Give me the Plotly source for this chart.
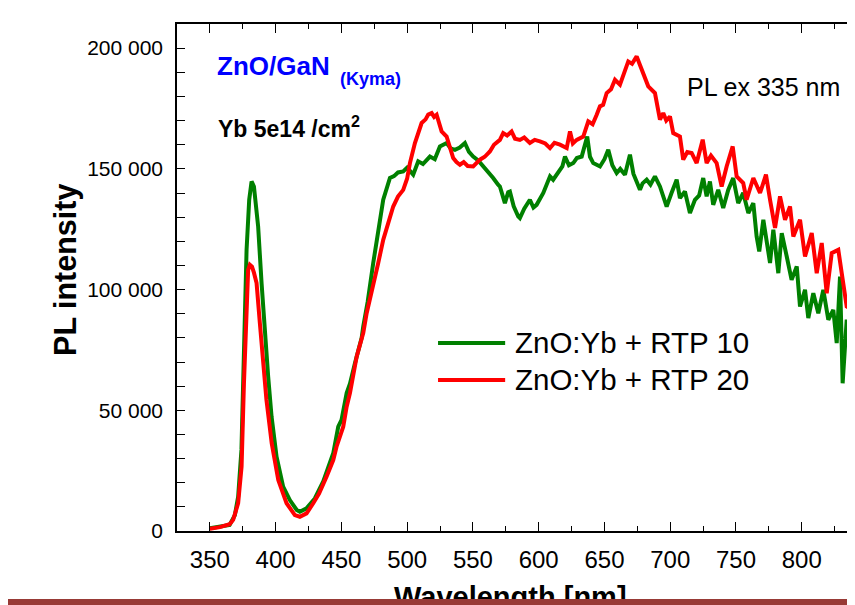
import plotly.graph_objects as go

# ---------------- data ----------------
wl_rtp10 = [350, 357.6, 365, 369, 371.5, 374, 375.3, 376.6, 377.9, 379.9, 381.7, 383.5, 385, 386.7,
            389.3, 391.8, 394.3, 396.9, 400.7, 405.7, 410.8, 416, 418.4, 423.5, 429.8, 436.2, 441.3,
            443.8, 447.6, 450.1, 454, 456.5, 460.3, 465.4, 466.6, 470, 474.2, 478, 481.8, 486.9, 490,
            493, 497, 500, 502, 504.6, 508.4, 512, 517.3, 521, 524.9, 530, 533, 536.3, 540, 543.9,
            547, 550.2, 554, 557.8, 561, 565.4, 569, 570.5, 574.3, 576.8, 578.1, 581, 584.4, 585.7,
            589, 593.3, 596, 598.4, 603.5, 606, 608.6, 611, 614.9, 618, 620, 623, 626.3, 629, 632.7,
            636.9, 639, 641.5, 646.6, 650, 652.9, 656, 659.3, 662, 665.6, 669.4, 672, 677, 679, 682.1,
            685, 688.4, 692.2, 697.3, 701, 704.9, 707.4, 711.2, 715, 718.8, 722, 725.1, 727.7, 730.2,
            732.7, 736.5, 740.3, 744.1, 747.9, 751.7, 755.5, 759.4, 763.2, 765.7, 767.7, 770.8, 775.9,
            778.4, 782.2, 784.8, 788.6, 792.3, 796.2, 798.7, 802.5, 805, 808.8, 812.6, 816.4, 820.2,
            824, 826.6, 829.1, 831.1, 834.2, 836.7, 839.2, 841]
pl_rtp10 = [1100, 1800, 2500, 6600, 14200, 33600, 61200, 88800, 116500, 137200, 144800, 142700, 135800,
            126100, 102700, 81900, 64000, 47400, 30800, 18400, 12800, 8700, 8000, 9400, 13500, 20500,
            28100, 32200, 43200, 46000, 57100, 61000, 69500, 80000, 84700, 95000, 111000, 125000,
            137200, 146200, 147000, 148500, 148900, 150500, 149000, 147600, 153100, 152000, 155100,
            154000, 159300, 160700, 158500, 157900, 158800, 160700, 157000, 155100, 153500, 151000,
            149500, 146200, 143500, 142700, 135800, 140300, 140600, 134500, 130300, 129600, 133500,
            137200, 134000, 135100, 140000, 143500, 146900, 145500, 148900, 151000, 155100, 151500,
            152400, 154500, 155100, 163400, 155000, 152400, 151000, 154000, 157900, 151500, 148300,
            150000, 147600, 155900, 148000, 141300, 144000, 145500, 143500, 146900, 142700, 134400,
            140000, 145500, 137900, 140600, 131700, 137200, 139000, 146200, 138600, 144800, 135100,
            141300, 133800, 141300, 146200, 135800, 140000, 131700, 135800, 122000, 115800, 128900,
            111000, 124800, 106800, 123400, 113700, 104000, 109600, 93000, 99900, 88200, 98500, 90200,
            99900, 87500, 91600, 77800, 105400, 61200, 87500, 73700, 51500, 48000]

wl_rtp20 = [350, 357.6, 365, 367.7, 371.5, 374.1, 375.9, 377.9, 379.1, 380.4, 382, 383.5, 385.5, 388,
            390.5, 393, 397, 402, 408.3, 414.6, 418.4, 423.5, 428.6, 433, 438.7, 443.8, 446.3, 451.4,
            454, 456.5, 461.6, 466.6, 469.2, 474.2, 478, 481.8, 485.5, 489.4, 493, 497, 500, 502.1,
            505.9, 508.5, 511, 514, 516, 518.6, 520.5, 522.4, 524.5, 526.2, 530, 532.5, 535, 537.5,
            540.1, 543, 546, 550.2, 553, 555.3, 559, 562.9, 566, 570.5, 573, 576, 579.4, 582, 585.7,
            589, 593.3, 597, 601, 605, 608.6, 612, 616.2, 621.3, 623.8, 626, 628.9, 633.9, 637.7, 641,
            644.1, 646.6, 649, 651.7, 655, 658, 661.8, 665, 668.1, 671, 674.5, 677, 679.5, 683.3, 688.4,
            692.2, 694.7, 697, 699.8, 702.3, 707.4, 709.9, 713, 716.3, 720.1, 724.7, 727.7, 731, 735.3,
            739.1, 742.9, 747.5, 750.5, 755.5, 758.1, 763.2, 768.3, 772.8, 775.9, 779.7, 783.5, 787.3,
            791.1, 793.6, 798.7, 802.5, 807.6, 811.4, 815.2, 819, 822.8, 827.8, 830.4, 834.2, 838, 841]
pl_rtp20 = [900, 1600, 2800, 4600, 11500, 26700, 61200, 95700, 108200, 110300, 109500, 107000, 102700,
            86100, 72200, 54300, 36400, 21100, 11500, 6600, 5900, 7300, 11500, 15500, 22500, 29400,
            34900, 43200, 51500, 57100, 72200, 82000, 90200, 101300, 111000, 120600, 127500, 134400,
            138500, 141300, 146000, 152400, 160700, 165000, 169000, 170500, 172500, 173100, 171500,
            172400, 168000, 165500, 163400, 158500, 154500, 152800, 151700, 152800, 151200, 151000,
            152800, 153800, 155000, 157200, 160000, 162000, 164800, 163800, 165500, 162500, 162000,
            163000, 160700, 162000, 161400, 160500, 158600, 160800, 160000, 158600, 165500, 160500,
            162000, 163400, 169700, 168500, 172400, 175900, 176500, 181400, 183000, 186900, 184900,
            190000, 194500, 193500, 196600, 193000, 189700, 184200, 181400, 170400, 173100, 170000,
            171700, 164800, 163400, 153800, 157000, 156600, 152400, 162100, 152400, 155500, 152400,
            142700, 151000, 159300, 146900, 144100, 137200, 146200, 140000, 147600, 137200, 125500,
            138600, 128900, 134400, 122000, 128900, 113700, 123400, 106800, 119300, 98500, 115100,
            116500, 106800, 93000, 91600, 92000]

series_names = ["ZnO:Yb + RTP 10", "ZnO:Yb + RTP 20"]
series_colors = ["#008000", "#ff0000"]

x_tick_vals = [350, 400, 450, 500, 550, 600, 650, 700, 750, 800, 850]
y_tick_vals = [0, 50000, 100000, 150000, 200000]
y_tick_text = ["0", "50 000", "100 000", "150 000", "200 000"]
x_range = [325, 840.5]
y_range = [0, 210000]

FONT = "Liberation Sans, Arial, sans-serif"
X_STANDOFF = 6

fig = go.Figure()
for wl, pl, name, col in [(wl_rtp10, pl_rtp10, series_names[0], series_colors[0]),
                          (wl_rtp20, pl_rtp20, series_names[1], series_colors[1])]:
    fig.add_trace(go.Scatter(x=wl, y=pl, mode="lines", name=name,
                             line=dict(color=col, width=4), showlegend=False))

# the page has an 8px body margin: the figure is sized so that it fills the window exactly
fig.update_layout(
    width=847, height=597,
    margin=dict(l=169, r=0, t=16, b=74),
    paper_bgcolor="white", plot_bgcolor="white",
    font=dict(family=FONT, color="black"),
)
fig.update_xaxes(
    range=x_range, showgrid=False, zeroline=False,
    showline=True, linecolor="black", linewidth=1.5, mirror="ticks",
    ticks="inside", ticklen=9, tickwidth=1.2, tickcolor="black",
    tickvals=x_tick_vals, tickfont=dict(size=24, family=FONT, color="black"),
    ticklabelstandoff=X_STANDOFF,
    minor=dict(dtick=25, tick0=350, ticks="inside", ticklen=5, tickwidth=1.2, tickcolor="black"),
)
fig.update_yaxes(
    range=y_range, showgrid=False, zeroline=False,
    showline=True, linecolor="black", linewidth=1.5,
    ticks="inside", ticklen=8, tickwidth=1.2, tickcolor="black",
    tickvals=y_tick_vals, ticktext=y_tick_text,
    tickfont=dict(size=21, family=FONT, color="black"),
    ticklabelstandoff=8,
    minor=dict(dtick=10000, ticks="inside", ticklen=8, tickwidth=1.2, tickcolor="black"),
)

ann = []
# last, cut-off x tick label
ann.append(dict(xref="paper", yref="paper", x=(850 - x_range[0]) / (x_range[1] - x_range[0]), y=0,
                yshift=-X_STANDOFF, xanchor="center", yanchor="top", showarrow=False, text="850",
                font=dict(size=24, family=FONT, color="black")))
# texts in the plot
ann.append(dict(xref="paper", yref="paper", x=0.056, y=0.917, xanchor="left", yanchor="middle",
                showarrow=False, text="<b>ZnO/GaN</b>", font=dict(size=26, family=FONT, color="#0000ff")))
ann.append(dict(xref="paper", yref="paper", x=0.2375, y=0.892, xanchor="left", yanchor="middle",
                showarrow=False, text="<b>(Kyma)</b>", font=dict(size=18, family=FONT, color="#0000ff")))
ann.append(dict(xref="paper", yref="paper", x=0.0575, y=0.796, xanchor="left", yanchor="middle",
                showarrow=False, text="<b>Yb 5e14 /cm<sup>2</sup></b>",
                font=dict(size=23, family=FONT, color="black")))
ann.append(dict(xref="paper", yref="paper", x=0.749, y=0.876, xanchor="left", yanchor="middle",
                showarrow=False, text="PL ex 335 nm", font=dict(size=25, family=FONT, color="black")))
# legend
leg_y = [0.371, 0.298]
shapes = []
for i in range(2):
    shapes.append(dict(type="line", xref="paper", yref="paper", x0=0.385, x1=0.484, y0=leg_y[i],
                       y1=leg_y[i], line=dict(color=series_colors[i], width=4)))
    ann.append(dict(xref="paper", yref="paper", x=0.4956, y=leg_y[i], xanchor="left", yanchor="middle",
                    showarrow=False, text=series_names[i], font=dict(size=29.5, family=FONT, color="black")))
# axis titles
ann.append(dict(xref="paper", yref="paper", x=-0.1637, y=0.515, xanchor="center", yanchor="middle",
                textangle=-90, showarrow=False, text="<b>PL intensity</b>",
                font=dict(size=30.5, family=FONT, color="black")))
ann.append(dict(xref="paper", yref="paper", x=0.4926, y=-0.130, xanchor="center", yanchor="middle",
                showarrow=False, text="<b>Wavelength [nm]</b>",
                font=dict(size=29, family=FONT, color="black")))
# dark red band at the very bottom of the page (drawn over the x title)
ann.append(dict(xref="paper", yref="paper", x=-169 / 678, y=(531 - 599) / 507, xanchor="left",
                yanchor="top", showarrow=False, text="&nbsp;", width=900, height=10, borderpad=0,
                borderwidth=0, bgcolor="#983a36", font=dict(size=6, color="#983a36")))

fig.update_layout(annotations=ann, shapes=shapes)
fig.write_html("out.html")
